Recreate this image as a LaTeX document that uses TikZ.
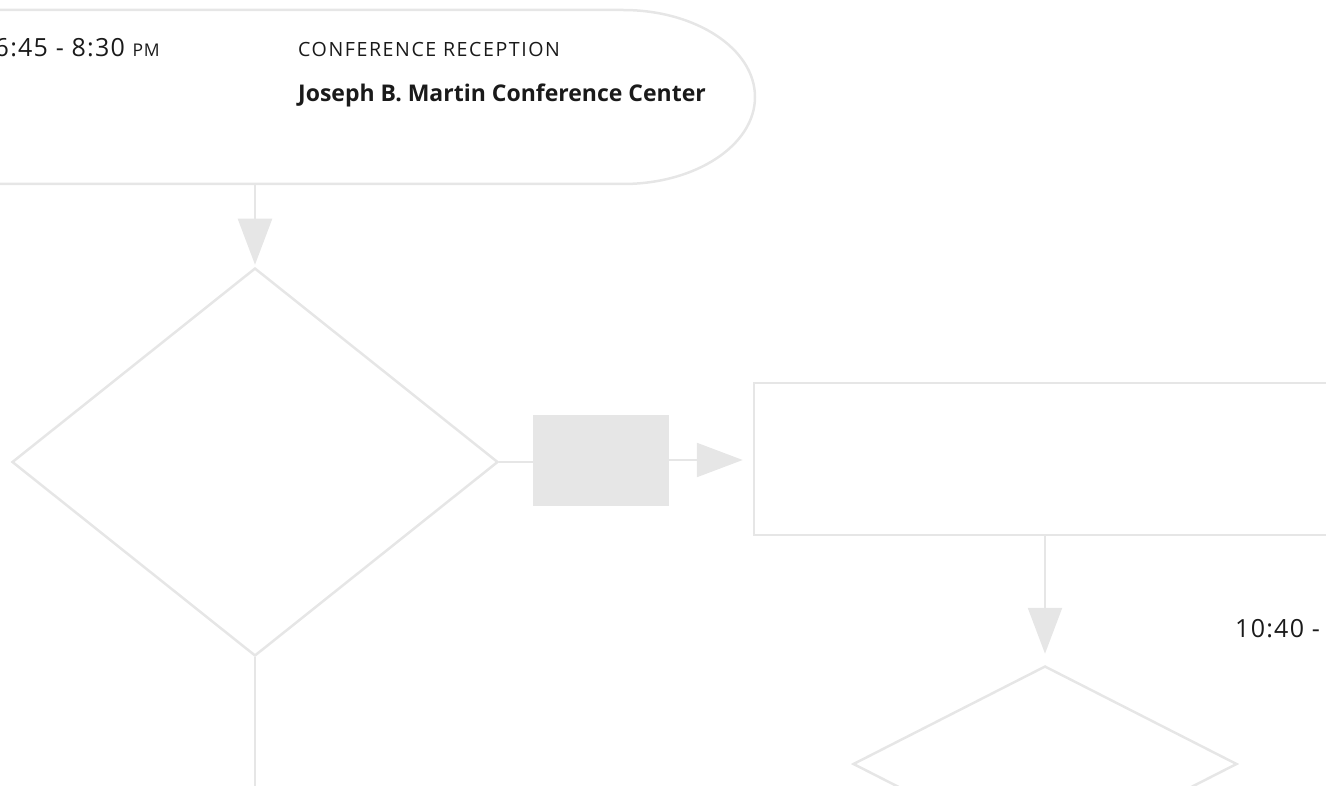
\documentclass[tikz,border=0pt]{standalone}
\usepackage{fontspec}
\setmainfont{Open Sans}
\usetikzlibrary{shapes.geometric,arrows.meta}
\definecolor{edge}{HTML}{E6E6E6}
\definecolor{ink}{HTML}{1A1A1A}
\tikzset{
  outline/.style={draw=edge, line width=2.5pt},
  flow/.style={draw=edge, line width=2.5pt, -{Triangle[width=34pt,length=46pt]}},
  decision/.style={outline, shape=diamond, inner sep=0pt},
  label/.style={text=ink, inner sep=0pt, anchor=base west},
}
\begin{document}
\begin{tikzpicture}[x=1pt,y=-1pt]
  \useasboundingbox (0,0) rectangle (1326,786);
  \clip (0,0) rectangle (1326,786);

  % reception block, runs off the left edge
  \draw[outline] (-200,10) -- (623,10)
    arc[start angle=90, end angle=-90, x radius=132pt, y radius=87pt] -- (-200,184);
  \coordinate (recep) at (255,184);
  \node[label, anchor=base east] (time) at (160,57)
    {\fontsize{25}{30}\selectfont\addfontfeatures{LetterSpace=5}6:45 - 8:30 {\fontsize{17.5}{20}\selectfont PM}};
  \node[label] (title) at (298,57)
    {\fontsize{19.6}{24}\selectfont\addfontfeatures{LetterSpace=8}CONFERENCE RECEPTION};
  \node[label] (venue) at (298,102)
    {\fontsize{23}{28}\selectfont\bfseries Joseph B. Martin Conference Center};

  \node[decision, minimum width=486pt, minimum height=388pt] (check) at (255,462) {};
  \node[fill=edge, inner sep=0pt, minimum width=136pt, minimum height=91pt] (tag) at (601,460) {};
  \node[outline, minimum width=582pt, minimum height=152pt] (room) at (1045,459) {};
  \node[decision, minimum width=384pt, minimum height=196pt] (gate) at (1045,764) {};
  \coordinate (down) at (255,800);

  \draw[flow, shorten >=2pt] (recep) -- (check.north);
  \draw[outline] (check.east) -- (check.east -| tag.west);
  \draw[flow, shorten >=10pt] (tag.east) -- (tag.east -| room.west);
  \draw[flow, shorten >=11pt] (room.south) -- (gate.north);
  \draw[outline] (check.south) -- (down);

  \node[label] (next) at (1235,637)
    {\fontsize{25}{30}\selectfont\addfontfeatures{LetterSpace=5}10:40 -};
\end{tikzpicture}
\end{document}
